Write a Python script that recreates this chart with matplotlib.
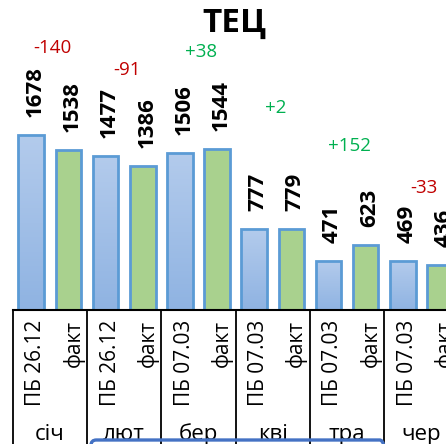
import matplotlib
matplotlib.use("Agg")
import matplotlib.pyplot as plt
import numpy as np
from matplotlib.patches import FancyBboxPatch
from matplotlib.colors import LinearSegmentedColormap

plt.rcParams['font.family'] = ['Open Sans', 'DejaVu Sans']

# ---- data ----
months = ['січ', 'лют', 'бер', 'кві', 'тра', 'чер']
plan_labels = ['ПБ 26.12', 'ПБ 26.12', 'ПБ 07.03', 'ПБ 07.03', 'ПБ 07.03', 'ПБ 07.03']
fact_label = 'факт'
plan = [1678, 1477, 1506, 777, 471, 469]
fact = [1538, 1386, 1544, 779, 623, 436]
title = 'ТЕЦ'

# heights (data units) at which the difference labels sit
diff_label_y = [2519, 2308, 2481, 1942, 1577, 1173]

W, H = 446, 444
fig = plt.figure(figsize=(W / 100, H / 100), dpi=100)
px_per_unit = 0.104
ax_left_px, base_px, top_px = 12.7, 310, 30
cat_px = 37.15
ax = fig.add_axes([ax_left_px / W, (H - base_px) / H, (W - ax_left_px) / W, (base_px - top_px) / H])
ax.axis('off')

blue_edge = '#5B9BD5'
green_fill = '#A9D18E'
bw = 0.69

grad = np.linspace(0, 1, 256).reshape(-1, 1)
cmap = LinearSegmentedColormap.from_list('bl', ['#8FB3E2', '#B3CBEC'])

for g in range(len(months)):
    xp = 2 * g
    xf = 2 * g + 1
    bp = ax.bar(xp, plan[g], width=bw, facecolor='none', edgecolor=blue_edge, linewidth=2, zorder=3)[0]
    im = ax.imshow(grad, extent=(xp - bw / 2, xp + bw / 2, 0, plan[g]), origin='lower',
                   cmap=cmap, aspect='auto', zorder=2)
    im.set_clip_path(bp)
    ax.bar(xf, fact[g], width=bw, facecolor=green_fill, edgecolor=blue_edge, linewidth=2, zorder=3)

    for xx, v in ((xp, plan[g]), (xf, fact[g])):
        ax.annotate(str(v), xy=(xx, v), xytext=(9.5, 18), textcoords='offset pixels',
                    rotation=90, rotation_mode='anchor', ha='left', va='baseline',
                    fontsize=16, fontweight='bold', color='black', annotation_clip=False)

    # sub labels under axis
    ax.annotate(plan_labels[g], xy=(xp, 0), xytext=(10, -10), textcoords='offset pixels',
                rotation=90, rotation_mode='anchor', ha='right', va='baseline',
                fontsize=15, color='black', annotation_clip=False)
    ax.annotate(fact_label, xy=(xf, 0), xytext=(11, -10), textcoords='offset pixels',
                rotation=90, rotation_mode='anchor', ha='right', va='baseline',
                fontsize=15, color='black', annotation_clip=False)
    # month label
    ax.annotate(months[g], xy=(2 * g + 0.5, 0), xytext=(0, -130), textcoords='offset pixels',
                ha='center', va='baseline', fontsize=16, color='black', annotation_clip=False)

    d = fact[g] - plan[g]
    txt = f'+{d}' if d > 0 else f'{d}'
    col = '#00B050' if d > 0 else '#C00000'
    ax.text(2 * g + 0.57, diff_label_y[g], txt, ha='center', va='center',
            fontsize=13.5, color=col, clip_on=False)

ax.set_ylim(0, (base_px - top_px) / px_per_unit)
ax.set_xlim(-0.5, -0.5 + (W - ax_left_px) / cat_px)

# category axis lines
ax.axhline(0, color='black', linewidth=1.5, zorder=5, clip_on=False)
for b in range(len(months) + 1):
    xb = 2 * b - 0.5
    ax.plot([xb, xb], [0, -1400], color='black', linewidth=1.3, clip_on=False, zorder=5)

# title
fig.text(234 / W, 1 - 23 / H, title, ha='center', va='center', fontsize=24, fontweight='bold')

# decorative rounded frame edge at bottom
fig.patches.append(FancyBboxPatch((91 / W, -20 / H), 294 / W, 24 / H,
                                  boxstyle='round,pad=0,rounding_size=0.012',
                                  transform=fig.transFigure, facecolor='none',
                                  edgecolor='#4472C4', linewidth=2.4))

fig.savefig('out.png', dpi=100)
